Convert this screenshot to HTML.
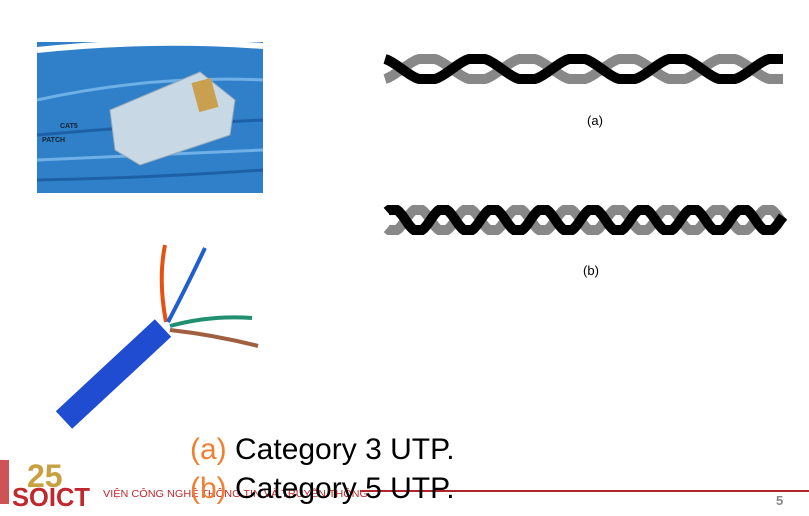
<!DOCTYPE html>
<html><head><meta charset="utf-8"><style>
body{margin:0;width:809px;height:516px;background:#fff;overflow:hidden;position:relative;font-family:"Liberation Sans",sans-serif}
svg{position:absolute;left:0;top:0}
.t{position:absolute;font-size:30px;color:#000;white-space:nowrap}
.t span{color:#f08030}
</style></head><body>
<svg width="809" height="516">
 <g>
  <rect x="37" y="42" width="226" height="151" fill="#2f80c8"/>
  <path d="M37 50 Q150 38 263 46" stroke="#fff" stroke-width="6" fill="none"/>
  <path d="M37 100 Q150 75 263 80" stroke="#6fb0e8" stroke-width="3" fill="none"/>
  <path d="M37 135 Q150 125 263 120" stroke="#1d60a8" stroke-width="3" fill="none"/>
  <path d="M37 160 Q150 155 263 150" stroke="#6fb0e8" stroke-width="3" fill="none"/>
  <path d="M37 180 Q150 178 263 170" stroke="#1d60a8" stroke-width="3" fill="none"/>
  <path d="M110 110 L200 72 L235 100 L230 135 L140 165 L115 150 Z" fill="#c8d8e4" stroke="#9ab" stroke-width="1"/>
  <rect x="195" y="80" width="20" height="30" fill="#c9a050" transform="rotate(-15 205 95)"/>
  <text x="60" y="128" font-size="7" fill="#123" font-weight="bold" font-family="Liberation Sans">CAT5</text>
  <text x="42" y="142" font-size="7" fill="#123" font-weight="bold" font-family="Liberation Sans">PATCH</text>
 </g>
 <g>
  <path d="M165 245 Q158 280 166 322" stroke="#e85010" stroke-width="4" fill="none"/>
  <path d="M205 248 Q185 290 168 322" stroke="#1e5ed0" stroke-width="4" fill="none"/>
  <path d="M170 326 Q210 315 252 318" stroke="#209070" stroke-width="4" fill="none"/>
  <path d="M170 330 Q215 335 258 346" stroke="#a06040" stroke-width="4" fill="none"/>
  <path d="M64 420 L163 328" stroke="#1f4cd0" stroke-width="24" fill="none"/>
 </g>
 <g id="twist-a"></g>
 <g id="twist-b"></g>
 <text x="595" y="125" font-size="13" text-anchor="middle" font-family="Liberation Sans">(a)</text>
 <text x="591" y="275" font-size="13" text-anchor="middle" font-family="Liberation Sans">(b)</text>
 <line x1="360" y1="491" x2="809" y2="491" stroke="#b0252a" stroke-width="2"/>
 <g>
  <rect x="0" y="460" width="9" height="44" fill="#c0282d" opacity="0.8"/>
  <text x="27" y="487" font-size="32" fill="#c8a040" font-family="Liberation Sans" font-weight="bold">25</text>
  <text x="12" y="506" font-size="26" fill="#c0282d" font-family="Liberation Sans" font-weight="bold" textLength="78" lengthAdjust="spacingAndGlyphs">SOICT</text>
  <text x="103" y="497" font-size="10.5" fill="#c0282d" font-family="Liberation Sans, DejaVu Sans" textLength="265" lengthAdjust="spacingAndGlyphs">VIỆN CÔNG NGHỆ THÔNG TIN VÀ TRUYỀN THÔNG</text>
 </g>
 <text x="776" y="505" font-size="13" fill="#888" font-weight="bold" font-family="Liberation Sans">5</text>
</svg>
<div class="t" style="left:190px;top:433px"><span>(a)</span> Category 3 UTP.</div>
<div class="t" style="left:190px;top:472px"><span>(b)</span> Category 5 UTP.</div>
<script>
function twist(id,x0,x1,cy,amp,period,w,crest){
  const g=document.getElementById(id);
  const cols=['#888','#000'];
  for(let k=0;k<2;k++){
    let d='';
    for(let x=x0;x<=x1;x+=1){
      let s=-Math.cos((x-crest)/period*2*Math.PI+k*Math.PI);
      s=Math.max(-1,Math.min(1,s*1.15));
      const y=cy+amp*s;
      d+=(x===x0?'M':'L')+x+' '+y.toFixed(1)+' ';
    }
    const p=document.createElementNS('http://www.w3.org/2000/svg','path');
    p.setAttribute('d',d);p.setAttribute('stroke',cols[k]);p.setAttribute('stroke-width',w);p.setAttribute('fill','none');
    
    
    g.appendChild(p);
  }
}
twist('twist-a',385,783,69,10,100,10,427);
twist('twist-b',387,783,220,10,50,10,418);
</script>
</body></html>
